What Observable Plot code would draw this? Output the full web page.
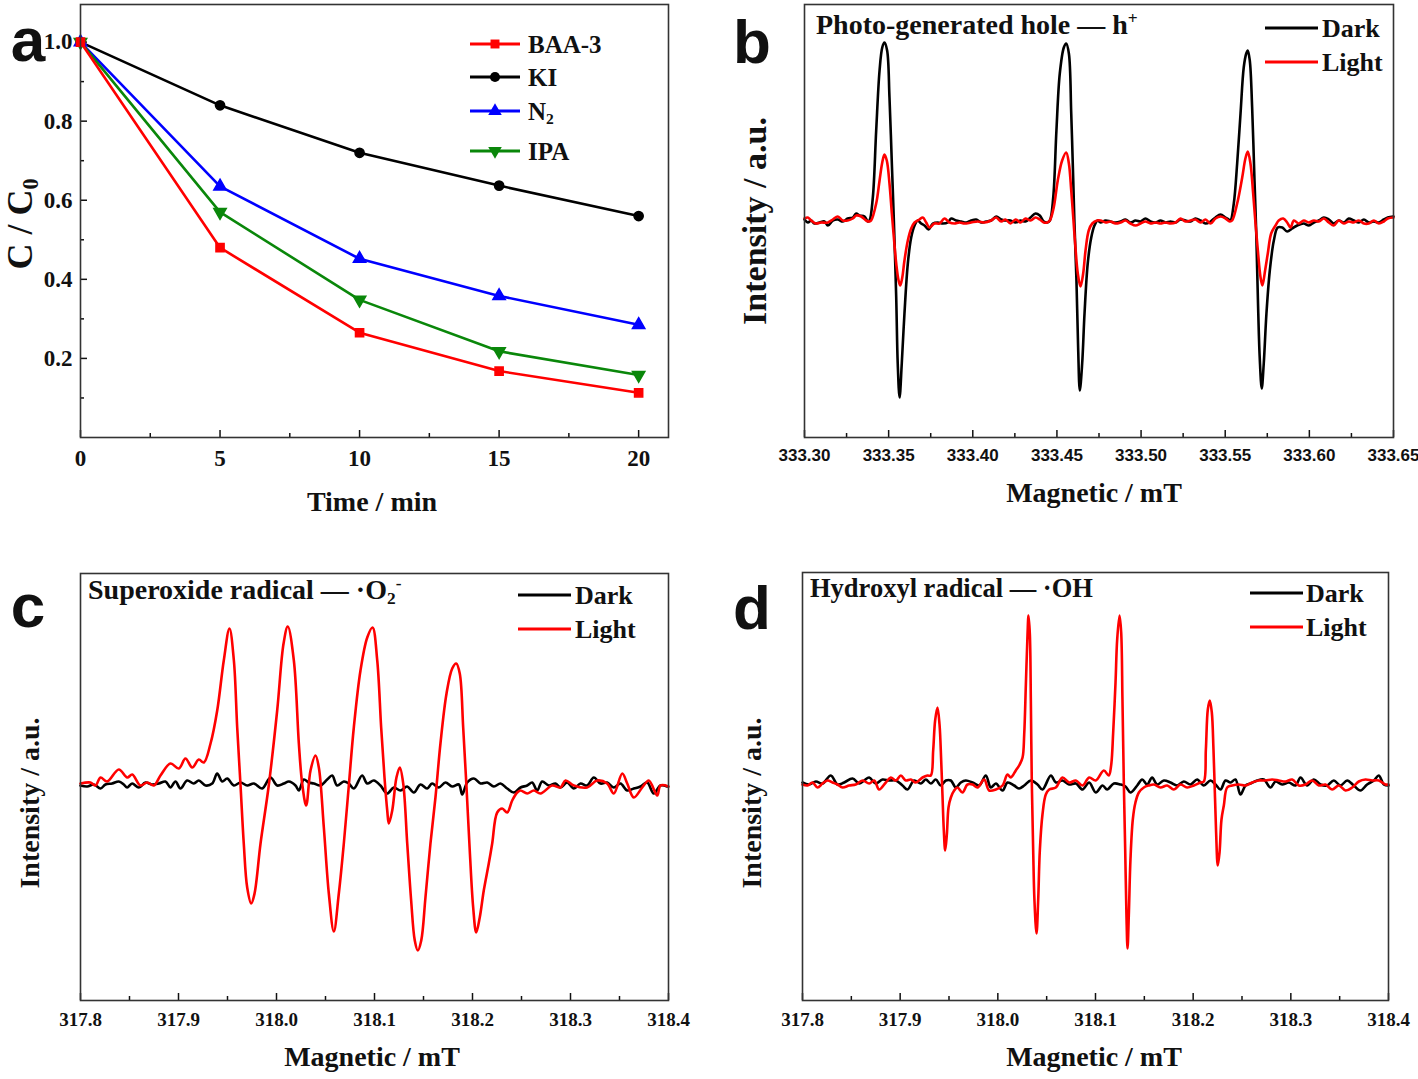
<!DOCTYPE html>
<html><head><meta charset="utf-8">
<script src="https://cdn.jsdelivr.net/npm/d3@7"></script>
<script src="https://cdn.jsdelivr.net/npm/@observablehq/plot@0.6"></script>
<style>
body{margin:0;background:#fff;}
#fig{position:relative;width:1418px;height:1079px;overflow:hidden;background:#fff;font-family:"Liberation Serif","Times New Roman",serif;font-weight:bold;color:#111;}
.abs{position:absolute;white-space:nowrap;line-height:1;}
.c{transform:translate(-50%,-50%);}
.l{transform:translate(0,-50%);}
.rot{transform:translate(-50%,-50%) rotate(-90deg);}
.letter{font-family:"Liberation Sans",Arial,sans-serif;font-weight:bold;font-size:62px;}
sub,sup{font-size:0.62em;line-height:0;}
</style></head><body><div id="fig"></div>
<script>
// ---------------- Panel a data ----------------
const timeMin = [0, 5, 10, 15, 20];
const seriesA = ["BAA-3", "KI", "N2", "IPA"];
const baa3 = [1.0, 0.48, 0.265, 0.168, 0.113];
const ki   = [1.0, 0.84, 0.72, 0.637, 0.56];
const n2   = [1.0, 0.635, 0.452, 0.358, 0.285];
const ipa  = [1.0, 0.57, 0.348, 0.218, 0.158];
const colorsA = ["#ff0000", "#000000", "#0000ff", "#0a870a"];
const xTicksA = [0, 5, 10, 15, 20];
const xMinorA = [2.5, 7.5, 12.5, 17.5];
const yTicksA = [0.2, 0.4, 0.6, 0.8, 1.0];
const yMinorA = [0.1, 0.3, 0.5, 0.7, 0.9];

// ---------------- Panel b data (x: mT, y: a.u.) ----------------
const bTicks = [333.30, 333.35, 333.40, 333.45, 333.50, 333.55, 333.60, 333.65];
const bMinor = [333.325, 333.375, 333.425, 333.475, 333.525, 333.575, 333.625];
const bDark = [[333.3000,1],[333.3020,-2],[333.3040,0],[333.3059,-3],[333.3089,-2],[333.3119,-1],[333.3139,-5],[333.3168,0],[333.3198,1],[333.3228,-1],[333.3257,2],[333.3287,3],[333.3307,7],[333.3327,5],[333.3357,4],[333.3376,-1],
[333.3386,0],[333.3406,23],[333.3426,90],[333.3446,150],[333.3462,173],[333.3475,178],[333.3491,170],[333.3505,123],[333.3519,57],[333.3531,0],[333.3545,-77],[333.3554,-143],[333.3565,-177],[333.3578,-143],[333.3594,-93],[333.3614,-43],[333.3634,-17],[333.3654,-5],
[333.3673,0],[333.3693,-3],[333.3713,-5],[333.3737,-9],[333.3763,-3],[333.3792,-2],[333.3822,-3],[333.3852,-2],[333.3872,2],[333.3901,0],[333.3931,-1],[333.3961,-2],[333.3990,0],[333.4020,1],[333.4050,-2],[333.4079,-1],[333.4109,0],[333.4139,4],[333.4169,1],[333.4188,0],
[333.4224,0],[333.4254,-2],[333.4284,0],[333.4313,-1],[333.4343,3],[333.4373,7],[333.4398,5],[333.4422,-1],[333.4442,-2],
[333.4458,0],[333.4478,23],[333.4497,90],[333.4517,147],[333.4541,173],[333.4555,177],[333.4571,167],[333.4585,107],[333.4597,40],[333.4604,-2],[333.4616,-60],[333.4626,-127],[333.4636,-170],[333.4650,-143],[333.4664,-93],[333.4683,-43],[333.4704,-17],[333.4723,-5],[333.4743,0],
[333.4759,-2],[333.4789,0],[333.4818,-1],[333.4848,-2],[333.4878,-1],[333.4907,1],[333.4937,-2],[333.4967,0],[333.4997,-1],[333.5026,2],[333.5056,-1],[333.5086,-2],[333.5115,0],[333.5145,-2],[333.5175,-1],[333.5205,-2],[333.5234,1],[333.5264,0],[333.5294,-1],[333.5323,2],[333.5353,0],[333.5383,-3],[333.5413,-1],[333.5442,3],[333.5472,6],[333.5502,3],[333.5521,1],
[333.5531,0],[333.5551,17],[333.5571,57],[333.5591,107],[333.5610,153],[333.5625,167],[333.5634,170],[333.5646,160],[333.5660,113],[333.5674,40],[333.5684,-10],[333.5694,-77],[333.5705,-137],[333.5717,-168],[333.5729,-143],[333.5745,-93],[333.5765,-50],[333.5789,-20],[333.5812,-7],[333.5839,-7],[333.5868,-11],[333.5898,-8],[333.5928,-5],[333.5967,-3],
[333.5997,-5],[333.6027,-2],[333.6056,0],[333.6086,3],[333.6116,1],[333.6145,-3],[333.6175,0],[333.6205,-2],[333.6234,2],[333.6264,0],[333.6294,-2],[333.6324,1],[333.6353,-2],[333.6383,-1],[333.6413,-2],[333.6442,1],[333.6466,3],[333.6500,4]];
const bLight = [[333.3000,2],[333.3020,3],[333.3040,0],[333.3069,-3],[333.3099,-2],[333.3139,-2],[333.3168,1],[333.3198,4],[333.3228,0],[333.3257,0],[333.3287,2],[333.3307,5],[333.3337,4],[333.3366,0],[333.3386,-1],
[333.3396,0],[333.3426,17],[333.3446,40],[333.3462,58],[333.3475,66],[333.3489,60],[333.3505,37],[333.3519,7],[333.3531,-17],[333.3545,-43],[333.3559,-60],[333.3569,-65],[333.3581,-57],[333.3594,-40],[333.3614,-20],[333.3634,-8],[333.3654,-2],[333.3683,1],
[333.3703,3],[333.3723,-2],[333.3743,-7],[333.3772,-3],[333.3802,-3],[333.3832,2],[333.3862,-2],[333.3891,-3],[333.3921,-2],[333.3951,-3],[333.3990,-2],[333.4030,-1],[333.4070,-2],[333.4109,0],[333.4139,3],[333.4169,-1],[333.4194,1],[333.4224,-3],[333.4254,1],[333.4284,-2],[333.4313,2],[333.4343,0],[333.4373,3],[333.4398,1],[333.4422,-2],[333.4442,-2],
[333.4458,0],[333.4481,13],[333.4505,40],[333.4531,60],[333.4555,68],[333.4571,57],[333.4585,30],[333.4597,3],[333.4610,-27],[333.4624,-53],[333.4640,-66],[333.4656,-53],[333.4670,-30],[333.4689,-10],[333.4710,-3],[333.4739,0],
[333.4759,0],[333.4789,-2],[333.4818,-1],[333.4848,-3],[333.4878,-2],[333.4907,0],[333.4937,-3],[333.4967,-5],[333.4997,-3],[333.5026,-1],[333.5056,-3],[333.5086,-2],[333.5115,-3],[333.5145,-2],[333.5175,-3],[333.5205,-2],[333.5234,2],[333.5264,-1],[333.5294,0],[333.5323,1],[333.5353,-2],[333.5383,1],[333.5413,-3],[333.5442,2],[333.5472,4],[333.5502,2],[333.5527,-1],
[333.5541,0],[333.5571,17],[333.5601,43],[333.5620,62],[333.5634,69],[333.5650,57],[333.5666,27],[333.5680,-3],[333.5694,-30],[333.5710,-57],[333.5721,-65],[333.5737,-50],[333.5753,-33],[333.5773,-13],[333.5799,-5],[333.5818,0],[333.5845,2],[333.5868,-2],[333.5888,-7],[333.5908,0],
[333.5937,-3],[333.5967,0],[333.5997,-2],[333.6027,0],[333.6056,-1],[333.6086,2],[333.6116,-2],[333.6145,-5],[333.6175,0],[333.6205,-3],[333.6234,-1],[333.6264,-2],[333.6294,0],[333.6324,-3],[333.6353,-3],[333.6383,0],[333.6413,-3],[333.6442,-1],[333.6466,2],[333.6500,3]];

// ---------------- Panel c data ----------------
const cdTicks = [317.8, 317.9, 318.0, 318.1, 318.2, 318.3, 318.4];
const cdMinor = [317.85, 317.95, 318.05, 318.15, 318.25, 318.35];
const cDark = [[317.8000,0],[317.8068,-1],[317.8136,1],[317.8204,-3],[317.8255,1],[317.8323,2],[317.8391,4],[317.8442,1],[317.8476,-2],[317.8527,2],[317.8595,-2],[317.8663,3],[317.8731,1],[317.8799,2],[317.8867,4],[317.8918,-2],[317.8969,4],[317.9020,-3],[317.9088,5],[317.9156,2],[317.9207,5],[317.9276,0],[317.9344,2],[317.9395,12],[317.9446,4],[317.9497,7],[317.9565,0],[317.9633,3],[317.9701,0],[317.9769,2],[317.9854,-3],[317.9939,8],[318.0007,0],[318.0075,2],[318.0126,4],[318.0194,0],[318.0228,-5],[318.0279,6],[318.0330,3],[318.0381,2],[318.0449,0],[318.0517,6],[318.0568,10],[318.0619,0],[318.0687,4],[318.0738,2],[318.0789,-3],[318.0874,10],[318.0925,2],[318.0993,5],[318.1061,0],[318.1129,-8],[318.1197,-2],[318.1265,-5],[318.1333,-1],[318.1401,-7],[318.1469,1],[318.1537,-3],[318.1588,2],[318.1656,-2],[318.1724,3],[318.1793,-1],[318.1861,1],[318.1895,-9],[318.1946,3],[318.2014,7],[318.2082,2],[318.2150,3],[318.2218,-1],[318.2286,2],[318.2354,-3],[318.2422,-7],[318.2490,-2],[318.2558,0],[318.2609,3],[318.2660,-5],[318.2711,4],[318.2779,0],[318.2847,2],[318.2898,-2],[318.2966,3],[318.3034,-3],[318.3102,2],[318.3170,0],[318.3238,8],[318.3306,2],[318.3374,3],[318.3442,-2],[318.3510,2],[318.3578,-5],[318.3646,-3],[318.3714,-1],[318.3782,3],[318.3850,-8],[318.3918,0],[318.3986,-1]];
const cLight = [[317.8000,2],[317.8102,3],[317.8153,0],[317.8204,8],[317.8272,4],[317.8391,16],[317.8477,8],[317.8528,11],[317.8612,0],[317.8681,3],[317.8748,0],[317.8816,10],[317.8918,22],[317.9003,17],[317.9071,27],[317.9140,18],[317.9207,26],[317.9258,23],[317.9327,42],[317.9395,75],[317.9462,125],[317.9520,157],
[317.9565,125],[317.9599,58],[317.9633,0],[317.9666,-58],[317.9701,-102],[317.9742,-118],[317.9776,-108],[317.9837,-58],[317.9921,0],[318.0007,75],[318.0072,142],[318.0115,159],
[318.0177,125],[318.0228,42],[318.0262,2],[318.0303,-20],[318.0347,15],[318.0398,30],[318.0432,18],[318.0483,-42],[318.0534,-108],[318.0585,-146],
[318.0636,-108],[318.0687,-58],[318.0738,0],[318.0789,58],[318.0857,115],[318.0926,148],[318.0980,158],
[318.1028,125],[318.1068,58],[318.1102,8],[318.1130,-25],[318.1146,-38],[318.1181,-25],[318.1224,8],[318.1258,18],[318.1293,2],[318.1334,-58],[318.1374,-115],[318.1411,-155],[318.1442,-165],[318.1477,-155],[318.1520,-112],[318.1571,-58],[318.1622,-12],[318.1673,42],[318.1735,92],[318.1793,117],[318.1834,122],[318.1870,112],[318.1905,58],[318.1939,-2],[318.1972,-65],[318.2007,-122],[318.2038,-147],[318.2074,-132],[318.2115,-105],[318.2166,-78],[318.2201,-58],[318.2252,-27],[318.2303,-23],[318.2354,-27],[318.2405,-15],[318.2456,-7],
[318.2490,-5],[318.2558,-8],[318.2626,-5],[318.2694,-8],[318.2813,0],[318.2898,-2],[318.2949,5],[318.3034,0],[318.3170,-2],[318.3272,5],[318.3374,2],[318.3442,-8],[318.3528,12],[318.3579,2],[318.3646,-12],[318.3732,-2],[318.3799,5],[318.3885,-10],[318.3918,0],[318.4000,-1]];

// ---------------- Panel d data ----------------
const dDark = [[317.8000,1],[317.8068,-1],[317.8137,2],[317.8205,0],[317.8290,8],[317.8358,-1],[317.8427,1],[317.8512,5],[317.8580,0],[317.8631,3],[317.8683,6],[317.8751,0],[317.8819,4],[317.8887,3],[317.8956,3],[317.9024,-2],[317.9075,-6],[317.9143,3],[317.9212,0],[317.9263,4],[317.9314,0],[317.9365,4],[317.9416,-2],[317.9468,3],[317.9519,3],[317.9570,-4],[317.9621,1],[317.9672,3],[317.9741,1],[317.9809,-2],[317.9877,8],[317.9928,-4],[317.9980,0],[318.0048,-7],[318.0099,1],[318.0167,-2],[318.0218,-5],[318.0270,-2],[318.0338,3],[318.0406,-1],[318.0457,-6],[318.0543,8],[318.0594,1],[318.0662,3],[318.0730,-1],[318.0799,0],[318.0867,-6],[318.0935,1],[318.1003,-9],[318.1072,-2],[318.1119,-6],[318.1188,0],[318.1256,-1],[318.1307,-3],[318.1358,-9],[318.1427,-2],[318.1478,4],[318.1529,-1],[318.1580,6],[318.1631,-1],[318.1700,3],[318.1768,1],[318.1836,-2],[318.1904,2],[318.1973,-1],[318.2041,4],[318.2109,-2],[318.2177,3],[318.2229,-1],[318.2280,-6],[318.2331,3],[318.2382,1],[318.2433,4],[318.2484,-11],[318.2536,-2],[318.2587,0],[318.2655,3],[318.2723,4],[318.2792,-4],[318.2843,2],[318.2911,-1],[318.2979,1],[318.3048,-2],[318.3099,6],[318.3167,-2],[318.3235,4],[318.3304,-1],[318.3372,-2],[318.3440,3],[318.3508,-2],[318.3577,3],[318.3645,-2],[318.3713,-7],[318.3781,-1],[318.3850,3],[318.3901,8],[318.3952,-1],[318.4000,-2]];
const dLight = [[317.8000,-1],[317.8051,-2],[317.8102,1],[317.8154,-4],[317.8205,0],[317.8256,3],[317.8307,1],[317.8358,-1],[317.8410,-4],[317.8478,-2],[317.8546,-1],[317.8614,3],[317.8683,0],[317.8734,3],[317.8785,-6],[317.8853,1],[317.8904,6],[317.8956,3],[317.9007,8],[317.9058,3],[317.9109,4],[317.9160,1],[317.9229,6],[317.9280,8],[317.9314,8],
[317.9338,33],[317.9358,63],[317.9382,76],[317.9403,59],[317.9420,23],[317.9433,-11],[317.9447,-47],[317.9461,-67],[317.9478,-51],[317.9495,-24],[317.9519,-14],[317.9553,-7],[317.9587,-4],[317.9638,-9],[317.9689,-1],[317.9741,-1],[317.9792,-4],[317.9860,4],[317.9911,-7],[317.9980,-6],[318.0048,-2],[318.0099,9],[318.0133,6],[318.0184,13],[318.0218,18],[318.0253,26],
[318.0270,49],[318.0287,99],[318.0304,149],[318.0314,168],[318.0328,149],[318.0338,83],[318.0348,0],[318.0362,-67],[318.0375,-117],[318.0396,-150],[318.0413,-117],[318.0430,-67],[318.0457,-31],[318.0491,-11],[318.0526,-6],[318.0594,-4],[318.0662,6],[318.0730,1],[318.0799,3],[318.0867,-2],[318.0935,6],[318.1003,3],[318.1085,13],[318.1136,8],[318.1160,18],
[318.1181,51],[318.1205,101],[318.1222,144],[318.1246,168],[318.1263,151],[318.1276,84],[318.1290,1],[318.1304,-66],[318.1317,-132],[318.1328,-165],[318.1341,-132],[318.1358,-76],[318.1382,-36],[318.1409,-19],[318.1444,-9],[318.1495,-4],[318.1546,-2],[318.1597,-1],[318.1665,-4],[318.1734,-2],[318.1802,-6],[318.1870,-1],[318.1938,-4],[318.2007,-2],[318.2075,1],[318.2109,2],
[318.2130,34],[318.2150,74],[318.2170,83],[318.2191,71],[318.2208,34],[318.2222,-9],[318.2235,-49],[318.2252,-82],[318.2270,-69],[318.2290,-36],[318.2314,-22],[318.2348,-4],[318.2399,-2],[318.2467,-1],[318.2536,-2],[318.2604,1],[318.2672,3],[318.2741,3],[318.2809,4],[318.2877,3],[318.2945,2],[318.3014,4],[318.3082,-2],[318.3150,-1],[318.3218,3],[318.3287,-2],[318.3355,-1],[318.3423,-6],[318.3491,-2],[318.3560,-7],[318.3628,-4],[318.3696,2],[318.3764,4],[318.3833,3],[318.3901,3],[318.3969,-1],[318.4000,-1]];

// ---------------- helpers ----------------
const fig = document.getElementById("fig");
function put(node, left, top) {
  const w = document.createElement("div");
  w.style.position = "absolute"; w.style.left = left + "px"; w.style.top = top + "px";
  w.appendChild(node); fig.appendChild(w);
}
function txt(html, x, y, cls, size, extra) {
  const d = document.createElement("div");
  d.className = "abs " + cls;
  d.style.left = x + "px"; d.style.top = y + "px";
  if (size) d.style.fontSize = size + "px";
  if (extra) Object.assign(d.style, extra);
  d.innerHTML = html;
  fig.appendChild(d);
}
const serif = "'Liberation Serif','Times New Roman',serif";
const sans = "'Liberation Sans',Arial,sans-serif";
const baseStyle = {fontFamily: serif, fontWeight: "bold", color: "#111", background: "transparent", overflow: "visible"};
const P = (d) => d[0], V = (d) => d[1];

// ---------------- Panel a ----------------
const drawOrder = ["KI", "N2", "IPA", "BAA-3"];
const valuesA = {"BAA-3": baa3, "KI": ki, "N2": n2, "IPA": ipa};
const rowsA = [];
drawOrder.forEach(s => timeMin.forEach((t, i) => rowsA.push({series: s, t, c: valuesA[s][i]})));

const plotA = Plot.plot({
  width: 709, height: 540,
  marginLeft: 80, marginRight: 41, marginTop: 4, marginBottom: 103,
  x: {domain: [0, 21.07]},
  y: {domain: [0, 1.095]},
  color: {domain: seriesA, range: colorsA},
  symbol: {domain: seriesA, range: ["square", "circle", "triangle", "triangle"]},
  style: baseStyle,
  marks: [
    Plot.axisX({ticks: xTicksA, tickSize: -7, tickPadding: 19, tickFormat: d => String(d), label: null, strokeWidth: 1.5, fontSize: 23, fontWeight: "bold"}),
    Plot.axisX({ticks: xMinorA, tickSize: -4, tickFormat: () => "", label: null, strokeWidth: 1.5}),
    Plot.axisY({ticks: yTicksA, tickSize: -7, tickPadding: 15, tickFormat: d => d.toFixed(1), label: null, strokeWidth: 1.5, fontSize: 23, fontWeight: "bold"}),
    Plot.axisY({ticks: yMinorA, tickSize: -4, tickFormat: () => "", label: null, strokeWidth: 1.5}),
    Plot.line(rowsA, {x: "t", y: "c", z: "series", stroke: "series", strokeWidth: 2.6}),
    Plot.dot(rowsA, {x: "t", y: "c", symbol: "series", fill: "series", stroke: "series", r: 4.6, rotate: d => d.series === "IPA" ? 180 : 0}),
    Plot.frame({stroke: "#333", strokeWidth: 1.6})
  ]
});
put(plotA, 0, 0);

// ---------------- EPR panels ----------------
function epr(dark, light, domX, domY, ticks, minor, fmt, m, tickFont, tickSize) {
  return Plot.plot({
    width: 709, height: m.h,
    marginLeft: m.l, marginRight: m.r, marginTop: m.t, marginBottom: m.b,
    x: {domain: domX},
    y: {domain: domY, axis: null},
    style: baseStyle,
    marks: [
      Plot.axisX({ticks, tickSize: -7, tickPadding: m.pad, tickFormat: fmt, label: null, strokeWidth: 1.5, fontSize: tickSize, fontFamily: tickFont, fontWeight: "bold"}),
      Plot.axisX({ticks: minor, tickSize: -4, tickFormat: () => "", label: null, strokeWidth: 1.5}),
      Plot.line(dark, {x: P, y: V, stroke: "#000", strokeWidth: 2.6, curve: "catmull-rom"}),
      Plot.line(light, {x: P, y: V, stroke: "#ff0000", strokeWidth: 2.6, curve: "catmull-rom"}),
      Plot.frame({stroke: "#333", strokeWidth: 1.6})
    ]
  });
}
put(epr(bDark, bLight, [333.30, 333.65], [-217, 216], bTicks, bMinor, d => d.toFixed(2),
  {h: 540, l: 95, r: 25, t: 4, b: 103, pad: 18}, sans, 17), 709, 0);
put(epr(cDark, cLight, [317.8, 318.4], [-215, 212], cdTicks, cdMinor, d => d.toFixed(1),
  {h: 539, l: 80, r: 41, t: 33, b: 79, pad: 19}, serif, 19), 0, 540);
put(epr(dDark, dLight, [317.8, 318.4], [-217, 211], cdTicks, cdMinor, d => d.toFixed(1),
  {h: 539, l: 93, r: 30, t: 32, b: 79, pad: 19}, serif, 19), 709, 540);

// ---------------- Text labels ----------------
// panel letters
txt("a", 28, 40, "c letter");
txt("b", 752, 42, "c letter");
txt("c", 28, 606, "c letter");
txt("d", 752, 608, "c letter");
// axis titles
txt("C / C<sub style='vertical-align:-0.25em'>0</sub>", 20, 224, "rot", 36);
txt("Time / min", 372, 502, "c", 28);
txt("Intensity / a.u.", 755, 221, "rot", 34);
txt("Magnetic / mT", 1094, 493, "c", 28);
txt("Intensity / a.u.", 30, 803, "rot", 28);
txt("Magnetic / mT", 372, 1057, "c", 28);
txt("Intensity / a.u.", 752, 803, "rot", 28);
txt("Magnetic / mT", 1094, 1057, "c", 28);
// in-plot titles
txt("Photo-generated hole — h<sup style='vertical-align:0.6em'>+</sup>", 816, 25, "l", 28);
txt("Superoxide radical — ·O<sub style='vertical-align:-0.3em'>2</sub><sup style='vertical-align:0.6em'>-</sup>", 88, 590, "l", 28);
txt("Hydroxyl radical — ·OH", 810, 588, "l", 26.5);

// legends
function legendSVG(items, w) {
  const ns = "http://www.w3.org/2000/svg";
  const svg = document.createElementNS(ns, "svg");
  svg.setAttribute("width", w); svg.setAttribute("height", 20);
  svg.style.overflow = "visible";
  items(svg, ns);
  return svg;
}
function lineSwatch(x0, y, len, color, marker) {
  const svg = legendSVG((svg, ns) => {
    const l = document.createElementNS(ns, "line");
    l.setAttribute("x1", 0); l.setAttribute("x2", len); l.setAttribute("y1", 10); l.setAttribute("y2", 10);
    l.setAttribute("stroke", color); l.setAttribute("stroke-width", 3);
    svg.appendChild(l);
    if (marker) {
      const p = document.createElementNS(ns, "path");
      p.setAttribute("d", d3.symbol(marker.type, marker.size)());
      p.setAttribute("transform", `translate(${len / 2},10) rotate(${marker.rot || 0})`);
      p.setAttribute("fill", color);
      svg.appendChild(p);
    }
  }, len);
  put(svg, x0, y - 10);
}
// panel a legend
const legA = [
  {name: "BAA-3", y: 44, type: d3.symbolSquare, rot: 0, html: "BAA-3"},
  {name: "KI", y: 77, type: d3.symbolCircle, rot: 0, html: "KI"},
  {name: "N2", y: 111, type: d3.symbolTriangle, rot: 0, html: "N<sub style='vertical-align:-0.3em'>2</sub>"},
  {name: "IPA", y: 151, type: d3.symbolTriangle, rot: 180, html: "IPA"}
];
legA.forEach(it => {
  const col = colorsA[seriesA.indexOf(it.name)];
  lineSwatch(470, it.y, 50, col, {type: it.type, size: 80, rot: it.rot});
  txt(it.html, 528, it.y, "l", 25);
});
// EPR legends
[[1265, 28, 1322], [518, 595, 575], [1250, 593, 1306]].forEach(([x, y, tx]) => {
  lineSwatch(x, y, 53, "#000");
  txt("Dark", tx, y + 1, "l", 26);
  lineSwatch(x, y + 34, 53, "#ff0000");
  txt("Light", tx, y + 35, "l", 26);
});
</script></body></html>
